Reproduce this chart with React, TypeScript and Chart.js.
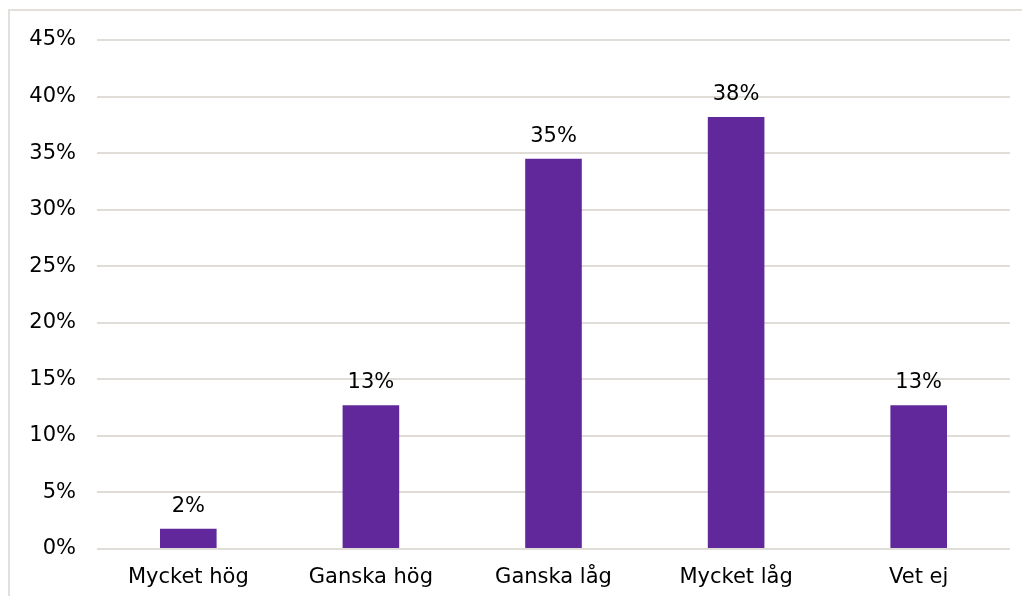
import React, { useEffect, useRef } from "react";
import { Chart, registerables } from "chart.js";

Chart.register(...registerables);

const categories = ["Mycket hög", "Ganska hög", "Ganska låg", "Mycket låg", "Vet ej"];
const values = [1.8, 12.7, 34.5, 38.2, 12.7];
const valueLabels = ["2%", "13%", "35%", "38%", "13%"];

const FONT = "'DejaVu Sans', Verdana, sans-serif";
const FONT_SIZE = 21;

const dataLabelPlugin = {
  id: "dataLabels",
  afterDatasetsDraw(chart: any) {
    const ctx = chart.ctx;
    const meta = chart.getDatasetMeta(0);
    ctx.save();
    ctx.font = `${FONT_SIZE}px ${FONT}`;
    ctx.fillStyle = "#000000";
    ctx.textAlign = "center";
    ctx.textBaseline = "alphabetic";
    meta.data.forEach((bar: any, i: number) => {
      ctx.fillText(valueLabels[i], bar.x, bar.y - 17);
    });
    ctx.restore();
  },
};

export default function App() {
  const ref = useRef<HTMLCanvasElement>(null);
  useEffect(() => {
    if (!ref.current) return;
    const chart = new Chart(ref.current, {
      type: "bar",
      data: {
        labels: categories,
        datasets: [
          {
            data: values,
            backgroundColor: "#61289b",
            borderWidth: 0,
            categoryPercentage: 1,
            barPercentage: 0.31,
          },
        ],
      },
      options: {
        animation: false,
        responsive: false,
        maintainAspectRatio: false,
        layout: { padding: { top: 29, right: 20, left: 0, bottom: 0 } },
        plugins: { legend: { display: false }, tooltip: { enabled: false } },
        scales: {
          x: {
            grid: { display: false, drawTicks: false },
            border: { display: false },
            ticks: {
              color: "#000000",
              font: { family: FONT, size: FONT_SIZE },
              padding: 16,
              maxRotation: 0,
            },
            afterFit: (s: any) => {
              s.height = 47;
            },
          },
          y: {
            min: 0,
            max: 45,
            grid: { color: "#e0ddd9", lineWidth: 2, drawTicks: false },
            border: { display: false },
            ticks: {
              stepSize: 5,
              color: "#000000",
              font: { family: FONT, size: FONT_SIZE },
              padding: 21,
              callback: (v: any) => `${v}%`,
            },
            afterFit: (s: any) => {
              s.width = 87;
              s.paddingTop = 0;
              s.paddingBottom = 0;
            },
          },
        },
      },
      plugins: [dataLabelPlugin],
    });
    return () => chart.destroy();
  }, []);
  return (
    <div style={{ paddingTop: 1 }}>
      <div
        style={{
          borderTop: "2px solid #e3e0dc",
          borderLeft: "2px solid #e3e0dc",
          width: 1020,
          height: 585,
          overflow: "hidden",
        }}
      >
        <canvas ref={ref} width={1020} height={585} style={{ display: "block" }} />
      </div>
    </div>
  );
}
